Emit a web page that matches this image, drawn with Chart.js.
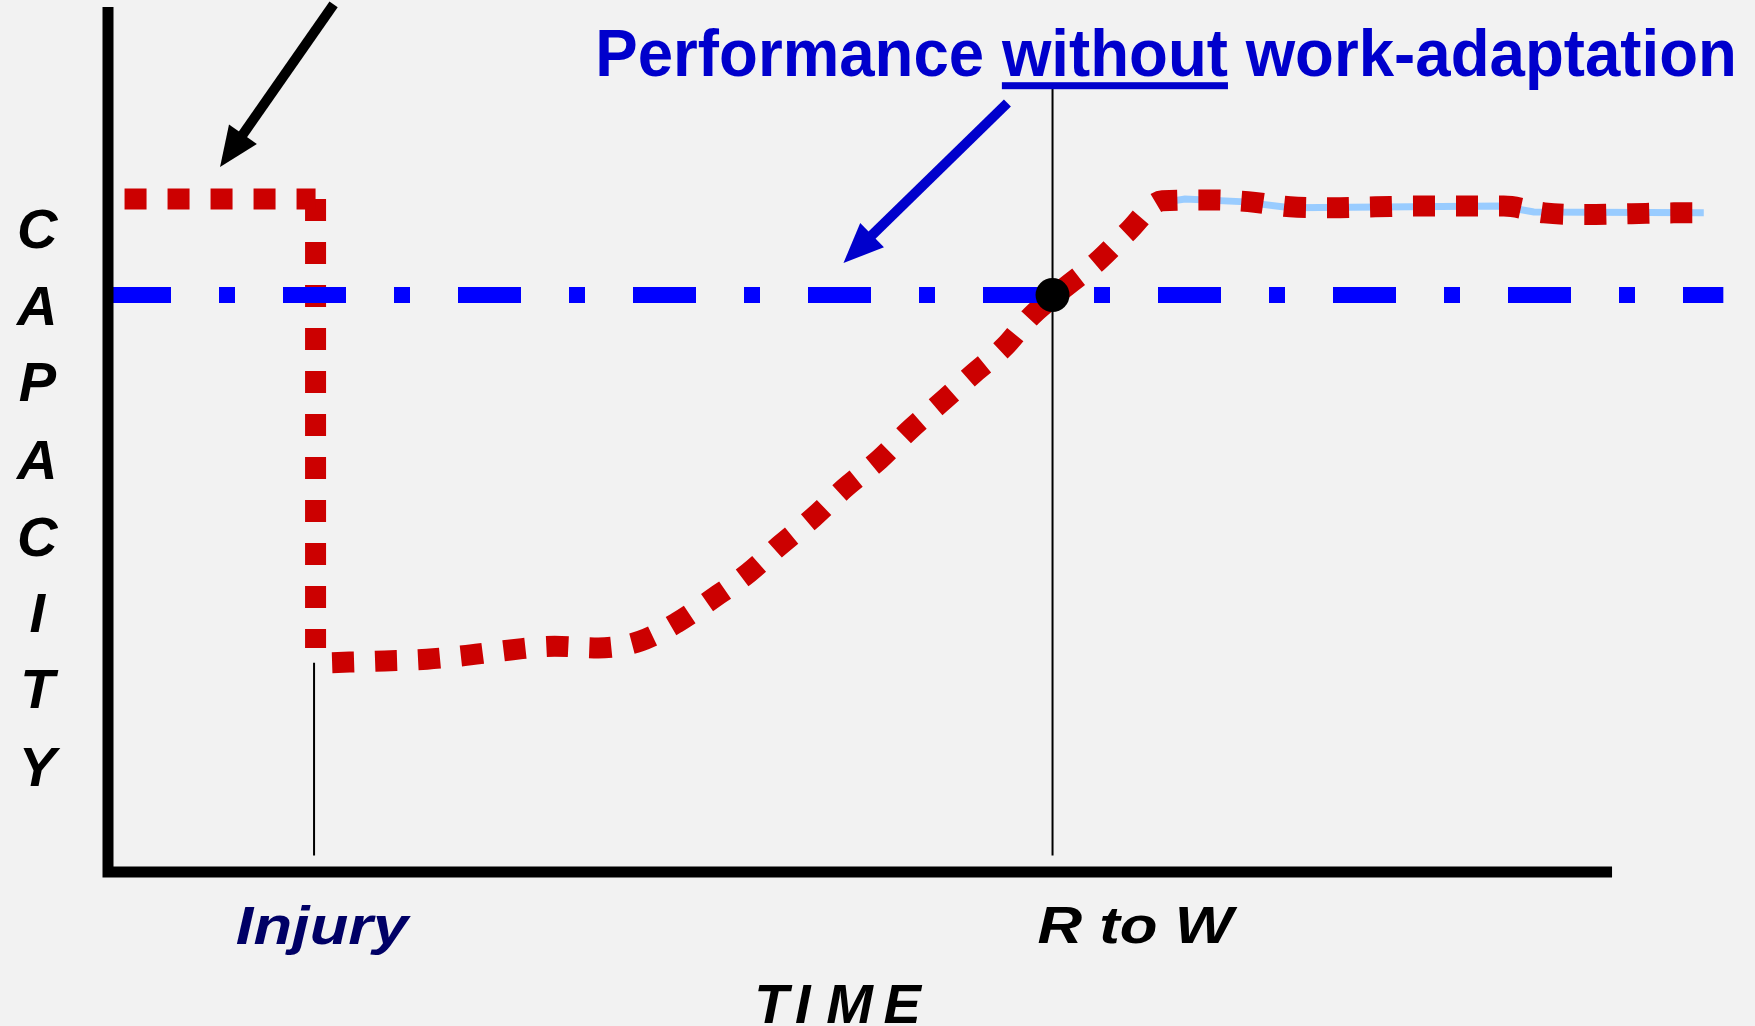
<!DOCTYPE html>
<html>
<head>
<meta charset="utf-8">
<script src="https://cdn.jsdelivr.net/npm/chart.js@4"></script>
<style>
  body { margin: 0; background: #f2f2f2; }
  canvas { display: block; }
</style>
</head>
<body>
<canvas id="grafica" width="1755" height="1026"></canvas>
<script>
// time runs 0..100 along the drawn x axis, capacity 0..100 up the y axis
var preInjuryTime = [1.1, 13.8];
var preInjuryCap = [77.8, 77.8];

var dropTime = [13.8, 13.8];
var dropCap = [77.8, 25.9];

var recoveryTime = [14.9, 18.4, 21.2, 24.1, 26.9, 29.7, 32.6, 35.4, 37.8, 40.2, 42.6, 44.7,
    46.9, 49.0, 51.3, 53.3, 55.6, 57.6, 59.6, 61.4, 63.5, 65.8, 67.8, 70.1, 73.0, 75.8,
    78.6, 81.4, 84.3, 87.1, 90.0, 92.8, 95.5, 98.3, 101.3, 104.1, 106.4];
var recoveryCap = [24.2, 24.4, 24.6, 25.1, 25.7, 26.1, 25.9, 26.7, 28.8, 31.6, 34.6, 37.8,
    41.0, 44.4, 47.7, 51.1, 54.6, 57.7, 60.7, 64.3, 67.4, 70.6, 74.0, 77.6, 77.7, 77.5,
    76.9, 76.8, 76.9, 77.0, 77.0, 77.0, 76.2, 76.0, 76.1, 76.2, 76.2];

var adaptedTime = [70.5, 71.6, 75.3, 78.6, 92.6, 94.8, 106.1];
var adaptedCap = [77.5, 77.8, 77.5, 76.8, 77.0, 76.3, 76.2];

var withoutTime = [0, 107.4];
var withoutCap = [66.7, 66.7];

var eventNames = ["Injury", "R to W"];
var eventTimes = [13.7, 62.8];
var eventFrom = [24.2, 90.6];
var eventTo = [1.9, 1.9];

var axisTime = [0, 0, 100];
var axisCap = [100, 0, 0];

var titleText = "Performance without work-adaptation";
var yTitle = "CAPACITY";
var xTitle = "TIME";

function pts(xs, ys){
    return xs.map(function(x, i){ return {x: x, y: ys[i]}; });
}

function linea(xs, ys, color, width, dash, order, extra){
    var ds = {
        data: pts(xs, ys),
        borderColor: color,
        borderWidth: width,
        borderDash: dash || [],
        borderCapStyle: "butt",
        pointRadius: 0,
        showLine: true,
        fill: false,
        tension: 0,
        clip: false,
        order: order
    };
    for (var k in extra) ds[k] = extra[k];
    return ds;
}

var rojo = "#cc0000";

var datasets = [
    { data: [{x: eventTimes[1], y: withoutCap[0]}], pointRadius: 17, pointBackgroundColor: "#000",
      pointBorderWidth: 0, showLine: false, clip: false, order: 0 },
    linea(axisTime, axisCap, "#000", 11, null, 1, {borderJoinStyle: "miter"}),
    linea(withoutTime, withoutCap, "#0000ff", 16, [63, 48, 16, 48], 2),
    linea([eventTimes[0], eventTimes[0]], [eventFrom[0], eventTo[0]], "#000", 2, null, 3),
    linea([eventTimes[1], eventTimes[1]], [eventFrom[1], eventTo[1]], "#000", 2, null, 3),
    linea(preInjuryTime, preInjuryCap, rojo, 21, [22, 21], 4),
    linea(dropTime, dropCap, rojo, 21, [22, 21], 4),
    linea(recoveryTime, recoveryCap, rojo, 21, [22, 21], 4, {cubicInterpolationMode: "monotone"}),
    linea(adaptedTime, adaptedCap, "#99ccff", 7, null, 5)
];

function flecha(ctx, x1, y1, x2, y2, color){
    var ang = Math.atan2(y2 - y1, x2 - x1);
    var len = 40, half = 17;
    var bx = x2 - len * Math.cos(ang), by = y2 - len * Math.sin(ang);
    ctx.save();
    ctx.strokeStyle = color;
    ctx.fillStyle = color;
    ctx.lineWidth = 10;
    ctx.beginPath();
    ctx.moveTo(x1, y1);
    ctx.lineTo(bx + 8 * Math.cos(ang), by + 8 * Math.sin(ang));
    ctx.stroke();
    ctx.beginPath();
    ctx.moveTo(x2, y2);
    ctx.lineTo(bx + half * Math.sin(ang), by - half * Math.cos(ang));
    ctx.lineTo(bx - half * Math.sin(ang), by + half * Math.cos(ang));
    ctx.closePath();
    ctx.fill();
    ctx.restore();
}

function texto(ctx, txt, left, right, base, size, style, color){
    ctx.font = style + " " + size + "px 'Liberation Sans', Arial, sans-serif";
    var w = ctx.measureText(txt).width;
    var sx = (right - left) / w;
    ctx.save();
    ctx.fillStyle = color;
    ctx.textAlign = "left";
    ctx.textBaseline = "alphabetic";
    ctx.translate(left, base);
    ctx.scale(sx, 1);
    ctx.fillText(txt, 0, 0);
    ctx.restore();
    return sx;
}

var anotaciones = {
    id: "anotaciones",
    afterDraw: function(chart){
        var ctx = chart.ctx;
        var X = function(v){ return chart.scales.x.getPixelForValue(v); };
        var Y = function(v){ return chart.scales.y.getPixelForValue(v); };

        flecha(ctx, X(15.0), Y(100.3), X(7.45), Y(81.5), "#000");
        flecha(ctx, X(59.8), Y(88.9), X(48.9), Y(70.4), "#0000cc");

        // title with underlined word
        var left = X(32.4), right = X(108.3), base = Y(92.0);
        var sx = texto(ctx, titleText, left, right, base, 67, "bold", "#0000cc");
        var pre = ctx.measureText("Performance ").width * sx;
        var word = ctx.measureText("without").width * sx;
        ctx.fillStyle = "#0000cc";
        ctx.fillRect(left + pre, base + 6, word, 7);

        texto(ctx, eventNames[0], X(8.5), X(19.95), Y(-8.3), 53, "italic bold", "#000066");
        texto(ctx, eventNames[1], X(61.8), X(74.8), Y(-8.2), 52, "italic bold", "#000");

        ctx.save();
        ctx.font = "italic bold 56px 'Liberation Sans', Arial, sans-serif";
        ctx.fillStyle = "#000";
        ctx.textAlign = "center";
        ctx.textBaseline = "alphabetic";
        var tx = [44.1, 46.2, 49.3, 52.8];
        for (var i = 0; i < xTitle.length; i++){
            ctx.fillText(xTitle[i], X(tx[i]), Y(-17.4));
        }
        var cy = [72.1, 63.2, 54.5, 45.4, 36.5, 27.7, 19.0, 10.0];
        for (var j = 0; j < yTitle.length; j++){
            ctx.fillText(yTitle[j], X(-4.7), Y(cy[j]));
        }
        ctx.restore();
    }
};

var canva = document.getElementById("grafica").getContext("2d");
var chartC = new Chart(canva, {
    type: "scatter",
    data: { datasets: datasets },
    options: {
        responsive: false,
        animation: false,
        layout: { autoPadding: false, padding: { left: 108, right: 7.6, top: 7, bottom: 154 } },
        scales: {
            x: { type: "linear", min: 0, max: 109, display: false },
            y: { type: "linear", min: 0, max: 100, display: false }
        },
        plugins: {
            legend: { display: false },
            tooltip: { enabled: false }
        }
    },
    plugins: [anotaciones]
});
</script>
</body>
</html>
